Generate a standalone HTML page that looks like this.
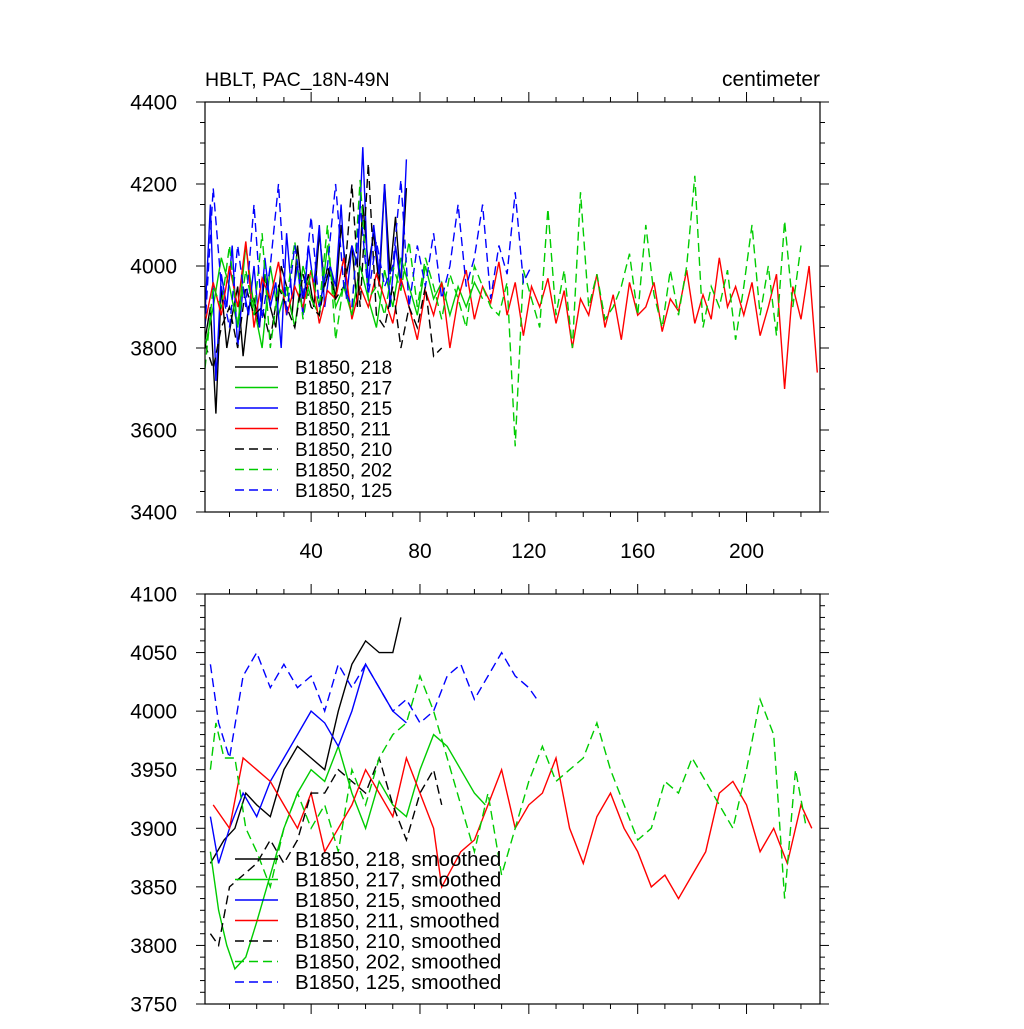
<!DOCTYPE html>
<html><head><meta charset="utf-8"><style>
body{margin:0;background:#fff}
svg text{font-family:"Liberation Sans",sans-serif;fill:#000}
</style></head><body>
<svg id="c" width="1024" height="1024" xmlns="http://www.w3.org/2000/svg">
<text x="205" y="86" font-size="19.5">HBLT, PAC_18N-49N</text>
<text x="820" y="86" font-size="21" text-anchor="end">centimeter</text>
</svg>
<script>
// ---- top panel raw data (start year 1, fixed step) ----
const r218=[3820,3900,3640,3950,3800,3880,3950,3780,3900,3920,3850,3980,3900,3850,4000,3950,3880,4050,3920,3980,3900,4080,3950,4000,3920,4100,3980,4050,3900,4150,4000,4080,3950,4200,3980,4120,3950,4190];
const r217=[3800,3900,4020,3950,3850,4050,3900,3800,4000,3880,3950,3850,4000,3920,3880,4050,3900,3950,3880,4000,3920,3850,3990,3900,4020,3950,3880,4000,3920,3960,3880,3950,3900,3960,3920];
const r215=[3880,4150,3720,3980,3900,4050,3800,3950,3880,4000,3850,4020,3900,3960,3800,4080,3920,4000,3880,4050,3950,4100,3900,4000,3950,4150,3920,4050,4000,4290,3950,4100,3980,4200,3900,4050,3950,4260];
const r211=[3860,3960,3880,4000,3900,4060,3850,3970,3920,4010,3880,3950,3900,3990,3860,3940,3920,4020,3870,3950,3900,3980,3920,3860,3970,3900,3820,3940,3880,3960,3800,3920,3990,3870,3950,3910,4010,3880,3960,3830,3950,3900,3970,3860,3940,3800,3920,3880,3980,3850,3930,3820,3960,3880,3900,3960,3840,3920,3890,3990,3860,3930,3870,4020,3900,3950,3880,3960,3830,3900,3980,3700,3950,3870,4000,3740];
const r210=[3810,3750,3850,3900,3800,3950,3880,3900,3820,3950,3900,3850,3980,3900,3880,4000,3920,3950,4200,3900,4250,3880,3850,3950,3800,3900,3850,3950,3780,3800];
const r202=[3750,3950,3900,4050,3850,3990,3880,4080,3800,3950,3920,4060,3870,3990,3900,4100,3820,3960,3880,4210,3920,3950,3880,4000,3940,4060,3900,4020,3950,3870,3980,3920,3850,4000,3950,3900,3880,3960,3560,3990,3920,3850,4140,3880,3990,3800,4180,3900,3980,3870,3900,3950,4030,3880,4100,3930,3850,3990,3880,4000,4220,3850,3950,3900,3990,3820,3950,4100,3880,4000,3830,4110,3900,4050];
const r125=[3850,4190,3950,3850,4050,3900,4150,3870,4000,4200,3880,4050,3920,4120,3900,4000,4200,3950,3900,4150,3930,4060,3950,4000,4210,3900,4050,3950,4080,3920,4000,4150,3950,4020,4150,3920,4050,3980,4180,3960,4000];
// ---- bottom panel smoothed data ----
const s218y=[3,8,12,16,20,25,30,35,40,45,50,55,60,65,70,73];
const s218=[3870,3890,3900,3930,3920,3910,3950,3970,3960,3950,4000,4040,4060,4050,4050,4080];
const s217y=[3,6,9,12,16,20,25,30,35,40,45,50,55,60,65,70,75,80,85,90,95,100,104];
const s217=[3880,3830,3800,3780,3790,3820,3860,3900,3930,3950,3940,3970,3930,3900,3940,3920,3910,3950,3980,3970,3950,3930,3920];
const s215y=[3,6,10,15,20,25,30,35,40,45,50,55,60,65,70,75];
const s215=[3910,3870,3900,3930,3910,3940,3960,3980,4000,3990,3970,4000,4040,4020,4000,3990];
const s211y=[4,10,15,20,25,30,35,40,45,50,55,60,65,70,75,80,85,88,95,100,105,110,115,120,125,130,135,140,145,150,155,160,165,170,175,180,185,190,195,200,205,210,215,220,224];
const s211=[3920,3900,3960,3950,3940,3920,3900,3930,3880,3900,3920,3950,3930,3910,3960,3930,3900,3850,3880,3890,3920,3950,3900,3920,3930,3960,3900,3870,3910,3930,3900,3880,3850,3860,3840,3860,3880,3930,3940,3920,3880,3900,3870,3920,3900];
const s210y=[3,6,10,15,20,25,30,35,40,45,50,55,60,65,70,75,80,85,88];
const s210=[3810,3800,3850,3860,3870,3890,3870,3890,3930,3930,3950,3940,3930,3960,3920,3890,3930,3950,3920];
const s202y=[3,5,8,12,16,20,25,30,35,40,45,50,55,60,65,70,75,80,85,90,95,100,105,110,115,120,125,130,135,140,145,150,155,160,165,170,175,180,185,190,195,200,205,210,214,218,222];
const s202=[3950,3990,3960,3960,3900,3880,3850,3900,3930,3900,3920,3880,3950,3920,3960,3980,3990,4030,4000,3960,3920,3880,3930,3860,3900,3940,3970,3940,3950,3960,3990,3950,3920,3890,3900,3940,3930,3960,3940,3920,3900,3950,4010,3980,3840,3950,3900];
const s125y=[3,6,10,15,20,25,30,35,40,45,50,55,60,65,70,75,80,85,90,95,100,105,110,115,120,123];
const s125=[4040,3990,3960,4030,4050,4020,4040,4020,4030,4000,4040,4020,4040,4020,4000,4010,3990,4000,4030,4040,4010,4030,4050,4030,4020,4010];
const xMin=1,xMax=227;
const topYTicks=[3400,3600,3800,4000,4200,4400];
const botYTicks=[3750,3800,3850,3900,3950,4000,4050,4100];
const xTickLabels=[40,80,120,160,200];
const legTop=["B1850, 218","B1850, 217","B1850, 215","B1850, 211","B1850, 210","B1850, 202","B1850, 125"];
const legBot=legTop.map(s=>s+", smoothed");

const svg=document.getElementById('c');
const NS="http://www.w3.org/2000/svg";
function mk(t,a,p){const e=document.createElementNS(NS,t);for(const k in a)e.setAttribute(k,a[k]);(p||svg).appendChild(e);return e;}
const L=205,R=820;
const sx=v=>L+(v-xMin)/(xMax-xMin)*(R-L);
const styles=[["#000",""],["#0c0",""],["#00f",""],["#f00",""],["#000","9,5"],["#0c0","9,5"],["#00f","9,5"]];

function panel(name,T,B,y0,y1,yTicks,minorY,showX,series,leg,legY,legFs){
  const sy=v=>B-(v-y0)/(y1-y0)*(B-T);
  const g=mk('g',{});
  
  
  const clip=mk('clipPath',{id:name+'-clip'},g);
  mk('rect',{x:L,y:T,width:R-L,height:B-T},clip);
  const lg=mk('g',{'clip-path':'url(#'+name+'-clip)'},g);
  series.forEach((s,i)=>{
    const pts=s.v.map((v,j)=>sx(s.x?s.x[j]:1+j*s.step).toFixed(1)+','+sy(v).toFixed(1)).join(' ');
    const p=mk('polyline',{points:pts,fill:'none',stroke:styles[i][0],'stroke-width':1.4,'stroke-dasharray':styles[i][1]},lg);
    
    
  });
  const fr=mk('rect',{x:L,y:T,width:R-L,height:B-T,fill:'none',stroke:'#000','stroke-width':1.2},g);
  
  
  for(let v=y0;v<=y1+0.01;v+=minorY){
    const maj=yTicks.includes(v);const len=maj?9:5;
    mk('line',{x1:L,x2:L-len,y1:sy(v),y2:sy(v),stroke:'#000'},g);
    mk('line',{x1:R,x2:R+len,y1:sy(v),y2:sy(v),stroke:'#000'},g);
  }
  yTicks.forEach(v=>{
    const t=mk('text',{x:177,y:sy(v)+7.5,'font-size':21,'text-anchor':'end'},g);
    t.textContent=v;
    
    
  });
  for(let v=10;v<=xMax;v+=10){
    const maj=v%40===0;const len=maj?10:5;
    mk('line',{x1:sx(v),x2:sx(v),y1:B,y2:B+len,stroke:'#000'},g);
    mk('line',{x1:sx(v),x2:sx(v),y1:T,y2:T-len,stroke:'#000'},g);
  }
  if(showX) xTickLabels.forEach(v=>{
    const t=mk('text',{x:sx(v),y:B+46,'font-size':21,'text-anchor':'middle'},g);
    t.textContent=v;
    
    
  });
  leg.forEach((s,i)=>{
    const y=legY+i*20.5;
    const e=mk('g',{},g);
    
    
    mk('line',{x1:235,x2:278,y1:y,y2:y,stroke:styles[i][0],'stroke-width':1.4,'stroke-dasharray':styles[i][1]},e);
    const t=mk('text',{x:295,y:y+7,'font-size':legFs},e);
    t.textContent=s;
  });
}
panel('top-panel',102,512,3400,4400,topYTicks,50,true,[
  {v:r218,step:2},{v:r217,step:3},{v:r215,step:2},{v:r211,step:3},{v:r210,step:3},{v:r202,step:3},{v:r125,step:3}],legTop,367,19);
panel('bottom-panel',594,1004,3750,4100,botYTicks,10,false,[
  {x:s218y,v:s218},{x:s217y,v:s217},{x:s215y,v:s215},{x:s211y,v:s211},{x:s210y,v:s210},{x:s202y,v:s202},{x:s125y,v:s125}],legBot,859,20.5);
</script>
</body></html>
